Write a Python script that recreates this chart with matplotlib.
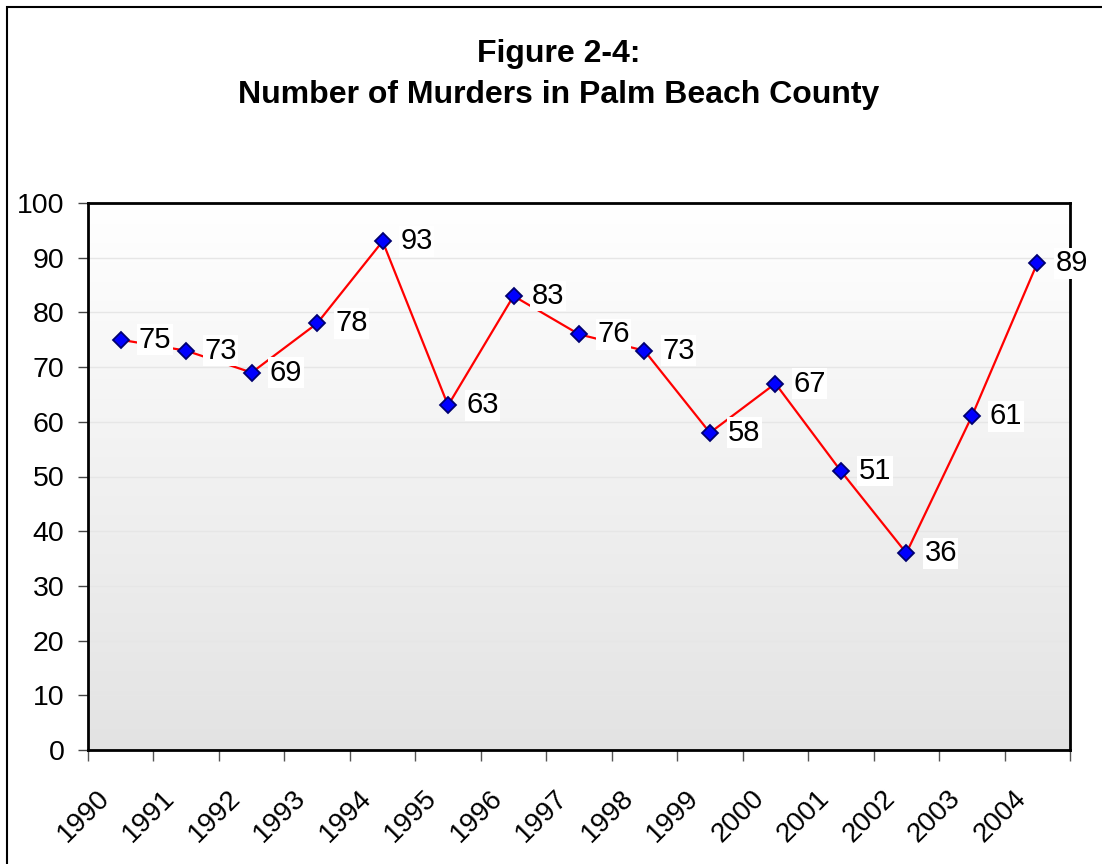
import numpy as np
import matplotlib
matplotlib.use("Agg")
import matplotlib.pyplot as plt
from matplotlib.colors import LinearSegmentedColormap
from matplotlib.patches import Rectangle
from matplotlib.transforms import ScaledTranslation

years = ["1990", "1991", "1992", "1993", "1994", "1995", "1996", "1997",
         "1998", "1999", "2000", "2001", "2002", "2003", "2004"]
murders = [75, 73, 69, 78, 93, 63, 83, 76, 73, 58, 67, 51, 36, 61, 89]
y_ticks = [0, 10, 20, 30, 40, 50, 60, 70, 80, 90, 100]
title_line1 = "Figure 2-4:"
title_line2 = "Number of Murders in Palm Beach County"

plt.rcParams['font.family'] = ['Liberation Sans', 'DejaVu Sans']

W, H = 1102, 864
fig = plt.figure(figsize=(W / 100, H / 100), dpi=100)
fig.patch.set_facecolor('white')

l, r, t, b = 88, 1070, 203, 750
ax = fig.add_axes([l / W, 1 - b / H, (r - l) / W, (b - t) / H])

n = len(years)
x = np.arange(n)
ax.set_xlim(-0.5, n - 0.5)
ax.set_ylim(0, 100)

# gradient background
cmap = LinearSegmentedColormap.from_list('g', ['#e3e3e3', '#ffffff'])
grad = np.linspace(0, 1, 256)[:, None]
ax.imshow(grad, extent=[-0.5, n - 0.5, 0, 100], origin='lower', aspect='auto',
          cmap=cmap, zorder=0, interpolation='bicubic')
ax.set_facecolor('white')

# gridlines
for yv in y_ticks[1:-1]:
    ax.axhline(yv, color='#e6e6e6', lw=1.0, zorder=1)

ax.plot(x, murders, color='#ff0000', lw=1.6, zorder=3,
        marker='D', markersize=8.5, markerfacecolor='#0000ff',
        markeredgecolor='#000070', markeredgewidth=1.3)

for xi, v in zip(x, murders):
    ax.annotate(str(v), (xi, v), xytext=(13, 0), textcoords='offset points',
                ha='left', va='center', fontsize=21, zorder=4,
                bbox=dict(boxstyle='square,pad=0.05', fc='white', ec='none'),
                annotation_clip=False)

for s in ax.spines.values():
    s.set_linewidth(2)
    s.set_color('black')

ax.set_yticks(y_ticks)
ax.set_yticklabels([str(v) for v in y_ticks], fontsize=20.5)
ax.tick_params(axis='y', direction='out', length=7, width=1, color='#444444', pad=10)

ax.set_xticks(np.arange(-0.5, n, 1.0), minor=True)
ax.set_xticks(x)
ax.set_xticklabels(years, fontsize=20, rotation=45, ha='right', va='center',
                   rotation_mode='anchor')
ax.tick_params(axis='x', which='major', length=0, pad=32)
ax.tick_params(axis='x', which='minor', direction='out', length=8, width=1, color='#555555')
off = ScaledTranslation(-15 / 100, 0, fig.dpi_scale_trans)
for lab in ax.get_xticklabels():
    lab.set_transform(lab.get_transform() + off)

fig.text(0.507, 1 - 62 / H, title_line1, ha='center', va='baseline', fontsize=23,
         fontweight='bold')
fig.text(0.507, 1 - 103 / H, title_line2, ha='center', va='baseline', fontsize=23,
         fontweight='bold')

fig.patches.append(Rectangle((7 / W, -0.1), 1.2, 1.1 - 7 / H, transform=fig.transFigure,
                             fill=False, lw=1.5, ec='black'))

fig.savefig('out.png', dpi=100)
